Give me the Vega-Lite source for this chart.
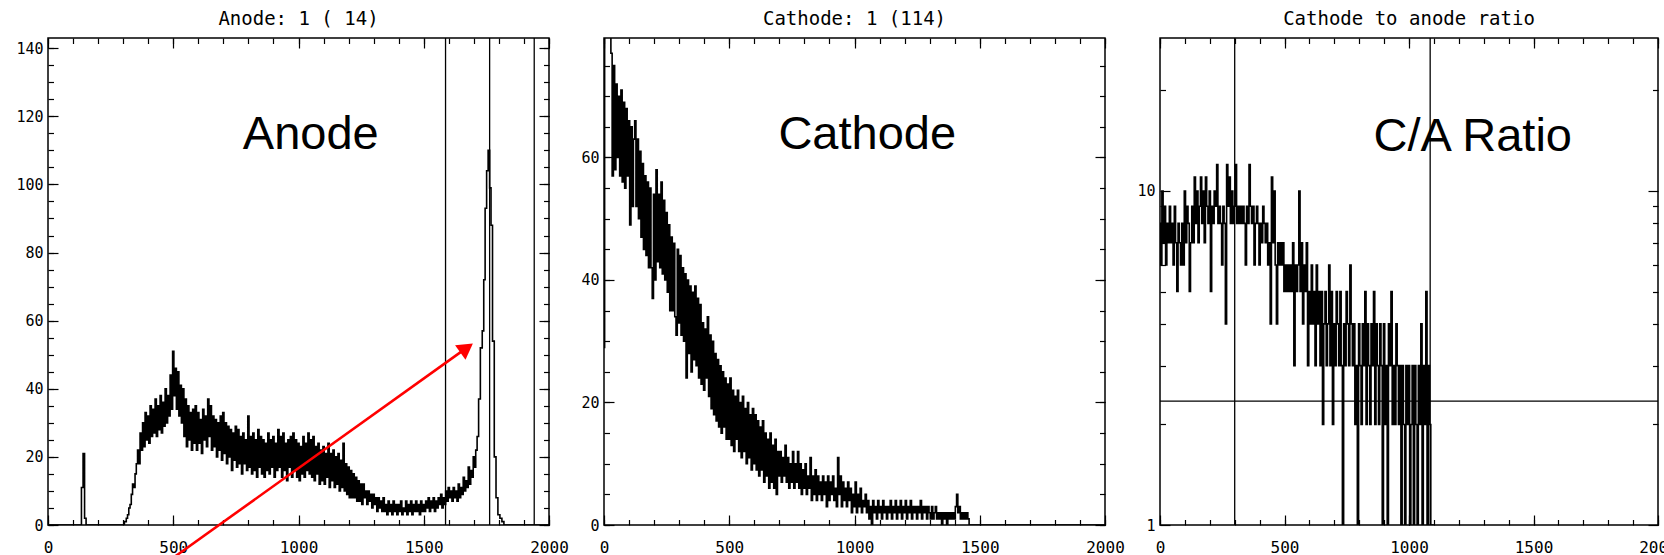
{
"$schema": "https://vega.github.io/schema/vega-lite/v6.json",
"background": "white",
"padding": {"left": 15, "top": 9, "right": 0, "bottom": 0},
"bounds": "flush",
"spacing": 55,
"config": {
  "view": {"stroke": "black", "strokeWidth": 1.5, "fill": "white"},
  "axis": {"labelFont": "DejaVu Sans Mono", "labelColor": "black", "tickColor": "black", "tickWidth": 1.2, "domain": false, "grid": false, "labelFlush": false, "labelOverlap": false, "labelBound": false},
  "title": {"font": "DejaVu Sans Mono", "fontSize": 19, "fontWeight": "normal", "color": "black", "offset": 8, "anchor": "middle"}
},
"hconcat": [
{
  "width": 501, "height": 487,
  "title": {"text": "Anode: 1 ( 14)"},
  "data": {"values": [
{"channel":0,"counts":0},{"channel":130,"counts":0},{"channel":137,"counts":11},{"channel":143,"counts":21},{"channel":149,"counts":2},{"channel":155,"counts":0},{"channel":300,"counts":0},
{"channel":310,"counts":1},{"channel":315,"counts":2},{"channel":320,"counts":3},{"channel":325,"counts":5},{"channel":330,"counts":6},{"channel":335,"counts":9},{"channel":340,"counts":12},{"channel":345,"counts":11},{"channel":350,"counts":15},{"channel":355,"counts":18},{"channel":360,"counts":22},{"channel":365,"counts":18},{"channel":370,"counts":27},{"channel":375,"counts":22},{"channel":380,"counts":30},{"channel":385,"counts":23},{"channel":390,"counts":33},{"channel":395,"counts":25},{"channel":400,"counts":32},{"channel":405,"counts":24},{"channel":410,"counts":35},{"channel":415,"counts":26},{"channel":420,"counts":34},{"channel":425,"counts":27},{"channel":430,"counts":37},{"channel":435,"counts":26},{"channel":440,"counts":35},{"channel":445,"counts":28},{"channel":450,"counts":38},{"channel":455,"counts":27},{"channel":460,"counts":36},{"channel":465,"counts":29},{"channel":470,"counts":40},{"channel":475,"counts":30},{"channel":480,"counts":38},{"channel":485,"counts":32},{"channel":490,"counts":44},{"channel":495,"counts":34},{"channel":500,"counts":51},{"channel":505,"counts":38},{"channel":510,"counts":46},{"channel":515,"counts":34},{"channel":520,"counts":45},{"channel":525,"counts":32},{"channel":530,"counts":41},{"channel":535,"counts":30},{"channel":540,"counts":40},{"channel":545,"counts":26},{"channel":550,"counts":37},{"channel":555,"counts":23},{"channel":560,"counts":35},{"channel":565,"counts":25},{"channel":570,"counts":33},{"channel":575,"counts":22},{"channel":580,"counts":34},{"channel":585,"counts":24},{"channel":590,"counts":35},{"channel":595,"counts":22},{"channel":600,"counts":33},{"channel":605,"counts":24},{"channel":610,"counts":31},{"channel":615,"counts":21},{"channel":620,"counts":34},{"channel":625,"counts":25},{"channel":630,"counts":32},{"channel":635,"counts":23},{"channel":640,"counts":37},{"channel":645,"counts":26},{"channel":650,"counts":35},{"channel":655,"counts":22},{"channel":660,"counts":32},{"channel":665,"counts":23},{"channel":670,"counts":31},{"channel":675,"counts":20},{"channel":680,"counts":30},{"channel":685,"counts":22},{"channel":690,"counts":32},{"channel":695,"counts":19},{"channel":700,"counts":33},{"channel":705,"counts":21},{"channel":710,"counts":30},{"channel":715,"counts":18},{"channel":720,"counts":29},{"channel":725,"counts":20},{"channel":730,"counts":28},{"channel":735,"counts":16},{"channel":740,"counts":27},{"channel":745,"counts":19},{"channel":750,"counts":29},{"channel":755,"counts":17},{"channel":760,"counts":28},{"channel":765,"counts":18},{"channel":770,"counts":26},{"channel":775,"counts":15},{"channel":780,"counts":27},{"channel":785,"counts":18},{"channel":790,"counts":25},{"channel":795,"counts":16},{"channel":800,"counts":32},{"channel":805,"counts":17},{"channel":810,"counts":26},{"channel":815,"counts":15},{"channel":820,"counts":27},{"channel":825,"counts":16},{"channel":830,"counts":25},{"channel":835,"counts":14},{"channel":840,"counts":28},{"channel":845,"counts":17},{"channel":850,"counts":26},{"channel":855,"counts":15},{"channel":860,"counts":25},{"channel":865,"counts":14},{"channel":870,"counts":24},{"channel":875,"counts":16},{"channel":880,"counts":27},{"channel":885,"counts":15},{"channel":890,"counts":25},{"channel":895,"counts":17},{"channel":900,"counts":26},{"channel":905,"counts":14},{"channel":910,"counts":24},{"channel":915,"counts":16},{"channel":920,"counts":28},{"channel":925,"counts":17},{"channel":930,"counts":26},{"channel":935,"counts":14},{"channel":940,"counts":27},{"channel":945,"counts":16},{"channel":950,"counts":24},{"channel":955,"counts":13},{"channel":960,"counts":25},{"channel":965,"counts":17},{"channel":970,"counts":26},{"channel":975,"counts":14},{"channel":980,"counts":27},{"channel":985,"counts":16},{"channel":990,"counts":25},{"channel":995,"counts":14},{"channel":1000,"counts":24},{"channel":1005,"counts":13},{"channel":1010,"counts":23},{"channel":1015,"counts":15},{"channel":1020,"counts":26},{"channel":1025,"counts":14},{"channel":1030,"counts":24},{"channel":1035,"counts":16},{"channel":1040,"counts":27},{"channel":1045,"counts":15},{"channel":1050,"counts":25},{"channel":1055,"counts":14},{"channel":1060,"counts":26},{"channel":1065,"counts":13},{"channel":1070,"counts":23},{"channel":1075,"counts":15},{"channel":1080,"counts":24},{"channel":1085,"counts":12},{"channel":1090,"counts":22},{"channel":1095,"counts":13},{"channel":1100,"counts":23},{"channel":1105,"counts":12},{"channel":1110,"counts":21},{"channel":1115,"counts":14},{"channel":1120,"counts":24},{"channel":1125,"counts":11},{"channel":1130,"counts":21},{"channel":1135,"counts":13},{"channel":1140,"counts":22},{"channel":1145,"counts":11},{"channel":1150,"counts":20},{"channel":1155,"counts":12},{"channel":1160,"counts":21},{"channel":1165,"counts":10},{"channel":1170,"counts":19},{"channel":1175,"counts":11},{"channel":1180,"counts":24},{"channel":1185,"counts":10},{"channel":1190,"counts":18},{"channel":1195,"counts":9},{"channel":1200,"counts":17},{"channel":1205,"counts":8},{"channel":1210,"counts":16},{"channel":1215,"counts":8},{"channel":1220,"counts":15},{"channel":1225,"counts":8},{"channel":1230,"counts":14},{"channel":1235,"counts":7},{"channel":1240,"counts":13},{"channel":1245,"counts":7},{"channel":1250,"counts":12},{"channel":1255,"counts":6},{"channel":1260,"counts":12},{"channel":1265,"counts":8},{"channel":1270,"counts":10},{"channel":1275,"counts":6},{"channel":1280,"counts":10},{"channel":1285,"counts":7},{"channel":1290,"counts":9},{"channel":1295,"counts":5},{"channel":1300,"counts":9},{"channel":1305,"counts":6},{"channel":1310,"counts":8},{"channel":1315,"counts":4},{"channel":1320,"counts":8},{"channel":1325,"counts":5},{"channel":1330,"counts":7},{"channel":1335,"counts":4},{"channel":1340,"counts":8},{"channel":1345,"counts":4},{"channel":1350,"counts":6},{"channel":1355,"counts":3},{"channel":1360,"counts":7},{"channel":1365,"counts":4},{"channel":1370,"counts":6},{"channel":1375,"counts":3},{"channel":1380,"counts":7},{"channel":1385,"counts":4},{"channel":1390,"counts":6},{"channel":1395,"counts":3},{"channel":1400,"counts":6},{"channel":1405,"counts":4},{"channel":1410,"counts":7},{"channel":1415,"counts":3},{"channel":1420,"counts":5},{"channel":1425,"counts":4},{"channel":1430,"counts":7},{"channel":1435,"counts":3},{"channel":1440,"counts":6},{"channel":1445,"counts":4},{"channel":1450,"counts":7},{"channel":1455,"counts":3},{"channel":1460,"counts":6},{"channel":1465,"counts":4},{"channel":1470,"counts":7},{"channel":1475,"counts":4},{"channel":1480,"counts":6},{"channel":1485,"counts":3},{"channel":1490,"counts":7},{"channel":1495,"counts":4},{"channel":1500,"counts":6},{"channel":1505,"counts":4},{"channel":1510,"counts":7},{"channel":1515,"counts":5},{"channel":1520,"counts":8},{"channel":1525,"counts":4},{"channel":1530,"counts":7},{"channel":1535,"counts":5},{"channel":1540,"counts":8},{"channel":1545,"counts":4},{"channel":1550,"counts":7},{"channel":1555,"counts":5},{"channel":1560,"counts":8},{"channel":1565,"counts":6},{"channel":1570,"counts":9},{"channel":1575,"counts":5},{"channel":1580,"counts":8},{"channel":1585,"counts":6},{"channel":1590,"counts":10},{"channel":1595,"counts":7},{"channel":1600,"counts":11},{"channel":1605,"counts":8},{"channel":1610,"counts":10},{"channel":1615,"counts":7},{"channel":1620,"counts":11},{"channel":1625,"counts":8},{"channel":1630,"counts":10},{"channel":1635,"counts":7},{"channel":1640,"counts":12},{"channel":1645,"counts":8},{"channel":1650,"counts":11},{"channel":1655,"counts":9},{"channel":1660,"counts":14},{"channel":1665,"counts":10},{"channel":1670,"counts":13},{"channel":1675,"counts":11},{"channel":1680,"counts":17},{"channel":1685,"counts":12},{"channel":1690,"counts":16},{"channel":1695,"counts":14},{"channel":1700,"counts":20},{"channel":1705,"counts":17},{"channel":1710,"counts":22},{"channel":1716,"counts":26},{"channel":1722,"counts":37},{"channel":1730,"counts":52},{"channel":1737,"counts":57},{"channel":1742,"counts":72},{"channel":1748,"counts":93},{"channel":1754,"counts":104},{"channel":1760,"counts":110},{"channel":1766,"counts":99},{"channel":1771,"counts":88},{"channel":1778,"counts":54},{"channel":1785,"counts":20},{"channel":1792,"counts":8},{"channel":1800,"counts":3},{"channel":1808,"counts":2},{"channel":1816,"counts":1},{"channel":1824,"counts":0},{"channel":2000,"counts":0}
  ]},
  "resolve": {"axis": {"x": "independent", "y": "independent"}},
  "layer": [
    {"mark": {"type": "line", "interpolate": "step", "color": "black", "strokeWidth": 1.6, "clip": true},
     "encoding": {
       "x": {"field": "channel", "type": "quantitative", "scale": {"domain": [0, 2000], "nice": false, "zero": false},
             "axis": {"orient": "bottom", "values": [0, 500, 1000, 1500, 2000], "tickSize": -10, "labelPadding": 24, "labelFontSize": 16, "format": "d", "title": null}},
       "y": {"field": "counts", "type": "quantitative", "scale": {"domain": [0, 143], "nice": false, "zero": false},
             "axis": {"orient": "left", "values": [0, 20, 40, 60, 80, 100, 120, 140], "tickSize": -10, "labelPadding": 15, "labelFontSize": 15, "format": "d", "title": null}}
     }},
    {"transform": [{"filter": "datum.channel == 0"}], "mark": {"type": "point", "opacity": 0},
     "encoding": {
       "x": {"field": "channel", "type": "quantitative", "scale": {"domain": [0, 2000], "nice": false, "zero": false},
             "axis": {"orient": "bottom", "values": [0,100,200,300,400,500,600,700,800,900,1000,1100,1200,1300,1400,1500,1600,1700,1800,1900,2000], "tickSize": -5.5, "labels": false, "title": null}},
       "y": {"field": "counts", "type": "quantitative", "scale": {"domain": [0, 143], "nice": false, "zero": false},
             "axis": {"orient": "left", "values": [0,5,10,15,20,25,30,35,40,45,50,55,60,65,70,75,80,85,90,95,100,105,110,115,120,125,130,135,140], "tickSize": -5.5, "labels": false, "title": null}}
     }},
    {"transform": [{"filter": "datum.channel == 0"}], "mark": {"type": "point", "opacity": 0},
     "encoding": {
       "x": {"field": "channel", "type": "quantitative", "scale": {"domain": [0, 2000], "nice": false, "zero": false},
             "axis": {"orient": "top", "values": [0, 500, 1000, 1500, 2000], "tickSize": -10, "labels": false, "title": null}},
       "y": {"field": "counts", "type": "quantitative", "scale": {"domain": [0, 143], "nice": false, "zero": false},
             "axis": {"orient": "right", "values": [0, 20, 40, 60, 80, 100, 120, 140], "tickSize": -10, "labels": false, "title": null}}
     }},
    {"transform": [{"filter": "datum.channel == 0"}], "mark": {"type": "point", "opacity": 0},
     "encoding": {
       "x": {"field": "channel", "type": "quantitative", "scale": {"domain": [0, 2000], "nice": false, "zero": false},
             "axis": {"orient": "top", "values": [0,100,200,300,400,500,600,700,800,900,1000,1100,1200,1300,1400,1500,1600,1700,1800,1900,2000], "tickSize": -5.5, "labels": false, "title": null}},
       "y": {"field": "counts", "type": "quantitative", "scale": {"domain": [0, 143], "nice": false, "zero": false},
             "axis": {"orient": "right", "values": [0,5,10,15,20,25,30,35,40,45,50,55,60,65,70,75,80,85,90,95,100,105,110,115,120,125,130,135,140], "tickSize": -5.5, "labels": false, "title": null}}
     }},
    {"data": {"values": [{"channel": 1587}, {"channel": 1763}, {"channel": 1941}]},
     "mark": {"type": "rule", "color": "black", "strokeWidth": 1.3},
     "encoding": {"x": {"field": "channel", "type": "quantitative", "scale": {"domain": [0, 2000], "nice": false, "zero": false}, "axis": null}}},
    {"data": {"values": [{}]},
     "mark": {"type": "text", "text": "Anode", "font": "Liberation Sans", "fontSize": 47, "align": "center", "baseline": "alphabetic", "color": "black"},
     "encoding": {
       "x": {"datum": 1049, "type": "quantitative", "scale": {"domain": [0, 2000], "nice": false, "zero": false}, "axis": null},
       "y": {"datum": 110.5, "type": "quantitative", "scale": {"domain": [0, 143], "nice": false, "zero": false}, "axis": null}
     }},
    {"data": {"values": [{}]},
     "mark": {"type": "rule", "color": "#ff0000", "strokeWidth": 2.6},
     "encoding": {
       "x": {"datum": 415, "type": "quantitative", "scale": {"domain": [0, 2000], "nice": false, "zero": false}, "axis": null},
       "x2": {"datum": 1671},
       "y": {"datum": -14.1, "type": "quantitative", "scale": {"domain": [0, 143], "nice": false, "zero": false}, "axis": null},
       "y2": {"datum": 52}
     }},
    {"data": {"values": [{}]},
     "mark": {"type": "point", "shape": "triangle-up", "filled": true, "color": "#ff0000", "opacity": 1, "size": 320, "angle": 54.4},
     "encoding": {
       "x": {"datum": 1671, "type": "quantitative", "scale": {"domain": [0, 2000], "nice": false, "zero": false}, "axis": null},
       "y": {"datum": 52, "type": "quantitative", "scale": {"domain": [0, 143], "nice": false, "zero": false}, "axis": null}
     }}
  ]
},
{
  "width": 501, "height": 487,
  "title": {"text": "Cathode: 1 (114)"},
  "data": {"values": [
{"channel":0,"counts":29},{"channel":5,"counts":95},{"channel":10,"counts":88},{"channel":15,"counts":92},{"channel":20,"counts":84},{"channel":25,"counts":86},{"channel":30,"counts":77},{"channel":35,"counts":57},{"channel":40,"counts":75},{"channel":45,"counts":58},{"channel":50,"counts":72},{"channel":55,"counts":60},{"channel":60,"counts":70},{"channel":65,"counts":57},{"channel":70,"counts":71},{"channel":75,"counts":56},{"channel":80,"counts":69},{"channel":85,"counts":55},{"channel":90,"counts":68},{"channel":95,"counts":57},{"channel":100,"counts":66},{"channel":105,"counts":49},{"channel":110,"counts":65},{"channel":115,"counts":52},{"channel":120,"counts":63},{"channel":125,"counts":66},{"channel":130,"counts":52},{"channel":135,"counts":63},{"channel":140,"counts":50},{"channel":145,"counts":61},{"channel":150,"counts":47},{"channel":155,"counts":59},{"channel":160,"counts":45},{"channel":165,"counts":57},{"channel":170,"counts":44},{"channel":175,"counts":56},{"channel":180,"counts":42},{"channel":185,"counts":55},{"channel":190,"counts":42},{"channel":195,"counts":37},{"channel":200,"counts":54},{"channel":205,"counts":40},{"channel":210,"counts":58},{"channel":215,"counts":43},{"channel":220,"counts":54},{"channel":225,"counts":42},{"channel":230,"counts":56},{"channel":235,"counts":41},{"channel":240,"counts":53},{"channel":245,"counts":40},{"channel":250,"counts":51},{"channel":255,"counts":38},{"channel":260,"counts":49},{"channel":265,"counts":35},{"channel":270,"counts":47},{"channel":275,"counts":35},{"channel":280,"counts":46},{"channel":285,"counts":34},{"channel":290,"counts":31},{"channel":295,"counts":45},{"channel":300,"counts":33},{"channel":305,"counts":44},{"channel":310,"counts":31},{"channel":315,"counts":42},{"channel":320,"counts":30},{"channel":325,"counts":41},{"channel":330,"counts":24},{"channel":335,"counts":40},{"channel":340,"counts":28},{"channel":345,"counts":39},{"channel":350,"counts":25},{"channel":355,"counts":38},{"channel":360,"counts":27},{"channel":365,"counts":39},{"channel":370,"counts":26},{"channel":375,"counts":37},{"channel":380,"counts":24},{"channel":385,"counts":36},{"channel":390,"counts":23},{"channel":395,"counts":33},{"channel":400,"counts":22},{"channel":405,"counts":32},{"channel":410,"counts":24},{"channel":415,"counts":34},{"channel":420,"counts":21},{"channel":425,"counts":31},{"channel":430,"counts":19},{"channel":435,"counts":30},{"channel":440,"counts":18},{"channel":445,"counts":28},{"channel":450,"counts":17},{"channel":455,"counts":27},{"channel":460,"counts":16},{"channel":465,"counts":26},{"channel":470,"counts":15},{"channel":475,"counts":25},{"channel":480,"counts":16},{"channel":485,"counts":24},{"channel":490,"counts":14},{"channel":495,"counts":23},{"channel":500,"counts":14},{"channel":505,"counts":24},{"channel":510,"counts":13},{"channel":515,"counts":22},{"channel":520,"counts":12},{"channel":525,"counts":21},{"channel":530,"counts":14},{"channel":535,"counts":22},{"channel":540,"counts":12},{"channel":545,"counts":20},{"channel":550,"counts":11},{"channel":555,"counts":21},{"channel":560,"counts":12},{"channel":565,"counts":19},{"channel":570,"counts":10},{"channel":575,"counts":20},{"channel":580,"counts":11},{"channel":585,"counts":18},{"channel":590,"counts":9},{"channel":595,"counts":19},{"channel":600,"counts":10},{"channel":605,"counts":18},{"channel":610,"counts":9},{"channel":615,"counts":17},{"channel":620,"counts":8},{"channel":625,"counts":16},{"channel":630,"counts":9},{"channel":635,"counts":17},{"channel":640,"counts":7},{"channel":645,"counts":15},{"channel":650,"counts":8},{"channel":655,"counts":14},{"channel":660,"counts":6},{"channel":665,"counts":15},{"channel":670,"counts":7},{"channel":675,"counts":13},{"channel":680,"counts":6},{"channel":685,"counts":14},{"channel":690,"counts":5},{"channel":695,"counts":12},{"channel":700,"counts":8},{"channel":705,"counts":12},{"channel":710,"counts":7},{"channel":715,"counts":11},{"channel":720,"counts":8},{"channel":725,"counts":13},{"channel":730,"counts":7},{"channel":735,"counts":11},{"channel":740,"counts":6},{"channel":745,"counts":10},{"channel":750,"counts":7},{"channel":755,"counts":12},{"channel":760,"counts":6},{"channel":765,"counts":10},{"channel":770,"counts":7},{"channel":775,"counts":12},{"channel":780,"counts":6},{"channel":785,"counts":10},{"channel":790,"counts":5},{"channel":795,"counts":9},{"channel":800,"counts":6},{"channel":805,"counts":10},{"channel":810,"counts":5},{"channel":815,"counts":8},{"channel":820,"counts":6},{"channel":825,"counts":11},{"channel":830,"counts":4},{"channel":835,"counts":8},{"channel":840,"counts":5},{"channel":845,"counts":9},{"channel":850,"counts":4},{"channel":855,"counts":8},{"channel":860,"counts":5},{"channel":865,"counts":7},{"channel":870,"counts":4},{"channel":875,"counts":8},{"channel":880,"counts":5},{"channel":885,"counts":7},{"channel":890,"counts":3},{"channel":895,"counts":8},{"channel":900,"counts":4},{"channel":905,"counts":7},{"channel":910,"counts":5},{"channel":915,"counts":8},{"channel":920,"counts":4},{"channel":925,"counts":6},{"channel":930,"counts":3},{"channel":935,"counts":11},{"channel":940,"counts":5},{"channel":945,"counts":8},{"channel":950,"counts":3},{"channel":955,"counts":7},{"channel":960,"counts":4},{"channel":965,"counts":6},{"channel":970,"counts":3},{"channel":975,"counts":7},{"channel":980,"counts":4},{"channel":985,"counts":6},{"channel":990,"counts":2},{"channel":995,"counts":5},{"channel":1000,"counts":3},{"channel":1005,"counts":7},{"channel":1010,"counts":2},{"channel":1015,"counts":5},{"channel":1020,"counts":3},{"channel":1025,"counts":6},{"channel":1030,"counts":2},{"channel":1035,"counts":4},{"channel":1040,"counts":3},{"channel":1045,"counts":5},{"channel":1050,"counts":2},{"channel":1055,"counts":4},{"channel":1060,"counts":1},{"channel":1065,"counts":3},{"channel":1070,"counts":0},{"channel":1075,"counts":4},{"channel":1080,"counts":2},{"channel":1085,"counts":3},{"channel":1090,"counts":1},{"channel":1095,"counts":4},{"channel":1100,"counts":2},{"channel":1105,"counts":3},{"channel":1110,"counts":1},{"channel":1115,"counts":4},{"channel":1120,"counts":2},{"channel":1125,"counts":3},{"channel":1130,"counts":1},{"channel":1135,"counts":3},{"channel":1140,"counts":2},{"channel":1145,"counts":4},{"channel":1150,"counts":1},{"channel":1155,"counts":3},{"channel":1160,"counts":2},{"channel":1165,"counts":4},{"channel":1170,"counts":1},{"channel":1175,"counts":3},{"channel":1180,"counts":2},{"channel":1185,"counts":4},{"channel":1190,"counts":1},{"channel":1195,"counts":3},{"channel":1200,"counts":2},{"channel":1205,"counts":4},{"channel":1210,"counts":1},{"channel":1215,"counts":3},{"channel":1220,"counts":2},{"channel":1225,"counts":4},{"channel":1230,"counts":1},{"channel":1235,"counts":3},{"channel":1240,"counts":2},{"channel":1245,"counts":3},{"channel":1250,"counts":1},{"channel":1255,"counts":3},{"channel":1260,"counts":2},{"channel":1265,"counts":4},{"channel":1270,"counts":1},{"channel":1275,"counts":3},{"channel":1280,"counts":2},{"channel":1285,"counts":3},{"channel":1290,"counts":1},{"channel":1295,"counts":3},{"channel":1300,"counts":2},{"channel":1305,"counts":1},{"channel":1310,"counts":3},{"channel":1315,"counts":1},{"channel":1320,"counts":2},{"channel":1325,"counts":3},{"channel":1330,"counts":1},{"channel":1335,"counts":2},{"channel":1340,"counts":1},{"channel":1345,"counts":2},{"channel":1350,"counts":0},{"channel":1355,"counts":2},{"channel":1360,"counts":1},{"channel":1365,"counts":2},{"channel":1370,"counts":0},{"channel":1375,"counts":2},{"channel":1380,"counts":1},{"channel":1385,"counts":2},{"channel":1390,"counts":1},{"channel":1395,"counts":2},{"channel":1400,"counts":1},{"channel":1405,"counts":3},{"channel":1410,"counts":5},{"channel":1415,"counts":2},{"channel":1420,"counts":3},{"channel":1425,"counts":1},{"channel":1430,"counts":2},{"channel":1435,"counts":1},{"channel":1440,"counts":2},{"channel":1445,"counts":1},{"channel":1450,"counts":2},{"channel":1455,"counts":1},{"channel":1460,"counts":0},{"channel":2000,"counts":0}
  ]},
  "resolve": {"axis": {"x": "independent", "y": "independent"}},
  "layer": [
    {"mark": {"type": "line", "interpolate": "step", "color": "black", "strokeWidth": 1.6, "clip": true},
     "encoding": {
       "x": {"field": "channel", "type": "quantitative", "scale": {"domain": [0, 2000], "nice": false, "zero": false},
             "axis": {"orient": "bottom", "values": [0, 500, 1000, 1500, 2000], "tickSize": -10, "labelPadding": 24, "labelFontSize": 16, "format": "d", "title": null}},
       "y": {"field": "counts", "type": "quantitative", "scale": {"domain": [0, 79.5], "nice": false, "zero": false},
             "axis": {"orient": "left", "values": [0, 20, 40, 60], "tickSize": -10, "labelPadding": 15, "labelFontSize": 15, "format": "d", "title": null}}
     }},
    {"transform": [{"filter": "datum.channel == 0"}], "mark": {"type": "point", "opacity": 0},
     "encoding": {
       "x": {"field": "channel", "type": "quantitative", "scale": {"domain": [0, 2000], "nice": false, "zero": false},
             "axis": {"orient": "bottom", "values": [0,100,200,300,400,500,600,700,800,900,1000,1100,1200,1300,1400,1500,1600,1700,1800,1900,2000], "tickSize": -5.5, "labels": false, "title": null}},
       "y": {"field": "counts", "type": "quantitative", "scale": {"domain": [0, 79.5], "nice": false, "zero": false},
             "axis": {"orient": "left", "values": [0,5,10,15,20,25,30,35,40,45,50,55,60,65,70,75], "tickSize": -5.5, "labels": false, "title": null}}
     }},
    {"transform": [{"filter": "datum.channel == 0"}], "mark": {"type": "point", "opacity": 0},
     "encoding": {
       "x": {"field": "channel", "type": "quantitative", "scale": {"domain": [0, 2000], "nice": false, "zero": false},
             "axis": {"orient": "top", "values": [0, 500, 1000, 1500, 2000], "tickSize": -10, "labels": false, "title": null}},
       "y": {"field": "counts", "type": "quantitative", "scale": {"domain": [0, 79.5], "nice": false, "zero": false},
             "axis": {"orient": "right", "values": [0, 20, 40, 60], "tickSize": -10, "labels": false, "title": null}}
     }},
    {"transform": [{"filter": "datum.channel == 0"}], "mark": {"type": "point", "opacity": 0},
     "encoding": {
       "x": {"field": "channel", "type": "quantitative", "scale": {"domain": [0, 2000], "nice": false, "zero": false},
             "axis": {"orient": "top", "values": [0,100,200,300,400,500,600,700,800,900,1000,1100,1200,1300,1400,1500,1600,1700,1800,1900,2000], "tickSize": -5.5, "labels": false, "title": null}},
       "y": {"field": "counts", "type": "quantitative", "scale": {"domain": [0, 79.5], "nice": false, "zero": false},
             "axis": {"orient": "right", "values": [0,5,10,15,20,25,30,35,40,45,50,55,60,65,70,75], "tickSize": -5.5, "labels": false, "title": null}}
     }},
    {"data": {"values": [{}]},
     "mark": {"type": "text", "text": "Cathode", "font": "Liberation Sans", "fontSize": 47, "align": "center", "baseline": "alphabetic", "color": "black"},
     "encoding": {
       "x": {"datum": 1051, "type": "quantitative", "scale": {"domain": [0, 2000], "nice": false, "zero": false}, "axis": null},
       "y": {"datum": 61.4, "type": "quantitative", "scale": {"domain": [0, 79.5], "nice": false, "zero": false}, "axis": null}
     }}
  ]
},
{
  "width": 498, "height": 487,
  "title": {"text": "Cathode to anode ratio"},
  "data": {"values": [
{"channel":0,"ratio":8},{"channel":5,"ratio":6},{"channel":10,"ratio":10},{"channel":15,"ratio":7},{"channel":20,"ratio":9},{"channel":25,"ratio":6},{"channel":30,"ratio":8},{"channel":35,"ratio":7},{"channel":40,"ratio":9},{"channel":45,"ratio":7},{"channel":50,"ratio":8},{"channel":55,"ratio":6},{"channel":60,"ratio":9},{"channel":65,"ratio":7},{"channel":70,"ratio":5},{"channel":75,"ratio":8},{"channel":80,"ratio":7},{"channel":85,"ratio":6},{"channel":90,"ratio":8},{"channel":95,"ratio":6},{"channel":100,"ratio":10},{"channel":105,"ratio":7},{"channel":110,"ratio":9},{"channel":115,"ratio":8},{"channel":120,"ratio":5},{"channel":125,"ratio":7},{"channel":130,"ratio":9},{"channel":135,"ratio":7},{"channel":140,"ratio":11},{"channel":145,"ratio":8},{"channel":150,"ratio":10},{"channel":155,"ratio":7},{"channel":160,"ratio":9},{"channel":165,"ratio":11},{"channel":170,"ratio":8},{"channel":175,"ratio":10},{"channel":180,"ratio":7},{"channel":185,"ratio":11},{"channel":190,"ratio":9},{"channel":195,"ratio":8},{"channel":200,"ratio":10},{"channel":205,"ratio":5},{"channel":210,"ratio":9},{"channel":215,"ratio":8},{"channel":220,"ratio":10},{"channel":225,"ratio":9},{"channel":230,"ratio":12},{"channel":235,"ratio":8},{"channel":240,"ratio":9},{"channel":245,"ratio":8},{"channel":250,"ratio":6},{"channel":255,"ratio":9},{"channel":260,"ratio":8},{"channel":265,"ratio":4},{"channel":270,"ratio":12},{"channel":275,"ratio":9},{"channel":280,"ratio":11},{"channel":285,"ratio":8},{"channel":290,"ratio":10},{"channel":295,"ratio":8},{"channel":300,"ratio":9},{"channel":305,"ratio":12},{"channel":310,"ratio":8},{"channel":315,"ratio":9},{"channel":320,"ratio":8},{"channel":325,"ratio":9},{"channel":330,"ratio":8},{"channel":335,"ratio":9},{"channel":340,"ratio":8},{"channel":345,"ratio":6},{"channel":350,"ratio":9},{"channel":355,"ratio":8},{"channel":360,"ratio":12},{"channel":365,"ratio":9},{"channel":370,"ratio":8},{"channel":375,"ratio":9},{"channel":380,"ratio":6},{"channel":385,"ratio":8},{"channel":390,"ratio":9},{"channel":395,"ratio":8},{"channel":400,"ratio":6},{"channel":405,"ratio":8},{"channel":410,"ratio":7},{"channel":415,"ratio":9},{"channel":420,"ratio":8},{"channel":425,"ratio":7},{"channel":430,"ratio":8},{"channel":435,"ratio":6},{"channel":440,"ratio":7},{"channel":445,"ratio":4},{"channel":450,"ratio":11},{"channel":455,"ratio":7},{"channel":460,"ratio":10},{"channel":465,"ratio":6},{"channel":470,"ratio":4},{"channel":475,"ratio":7},{"channel":480,"ratio":6},{"channel":485,"ratio":7},{"channel":490,"ratio":6},{"channel":495,"ratio":7},{"channel":500,"ratio":5},{"channel":505,"ratio":6},{"channel":510,"ratio":5},{"channel":515,"ratio":6},{"channel":520,"ratio":5},{"channel":525,"ratio":6},{"channel":530,"ratio":5},{"channel":535,"ratio":7},{"channel":540,"ratio":3},{"channel":545,"ratio":6},{"channel":550,"ratio":5},{"channel":555,"ratio":6},{"channel":560,"ratio":10},{"channel":565,"ratio":5},{"channel":570,"ratio":7},{"channel":575,"ratio":4},{"channel":580,"ratio":6},{"channel":585,"ratio":5},{"channel":590,"ratio":7},{"channel":595,"ratio":3},{"channel":600,"ratio":5},{"channel":605,"ratio":4},{"channel":610,"ratio":6},{"channel":615,"ratio":4},{"channel":620,"ratio":5},{"channel":625,"ratio":3},{"channel":630,"ratio":6},{"channel":635,"ratio":4},{"channel":640,"ratio":5},{"channel":645,"ratio":3},{"channel":650,"ratio":5},{"channel":655,"ratio":2},{"channel":660,"ratio":4},{"channel":665,"ratio":5},{"channel":670,"ratio":3},{"channel":675,"ratio":4},{"channel":680,"ratio":6},{"channel":685,"ratio":3},{"channel":690,"ratio":5},{"channel":695,"ratio":2},{"channel":700,"ratio":4},{"channel":705,"ratio":3},{"channel":710,"ratio":5},{"channel":715,"ratio":4},{"channel":720,"ratio":3},{"channel":725,"ratio":5},{"channel":730,"ratio":3},{"channel":735,"ratio":1},{"channel":740,"ratio":4},{"channel":745,"ratio":3},{"channel":750,"ratio":5},{"channel":755,"ratio":4},{"channel":760,"ratio":3},{"channel":765,"ratio":6},{"channel":770,"ratio":4},{"channel":775,"ratio":3},{"channel":780,"ratio":4},{"channel":785,"ratio":2},{"channel":790,"ratio":3},{"channel":795,"ratio":1},{"channel":800,"ratio":4},{"channel":805,"ratio":3},{"channel":810,"ratio":2},{"channel":815,"ratio":4},{"channel":820,"ratio":3},{"channel":825,"ratio":5},{"channel":830,"ratio":2},{"channel":835,"ratio":4},{"channel":840,"ratio":3},{"channel":845,"ratio":2},{"channel":850,"ratio":4},{"channel":855,"ratio":3},{"channel":860,"ratio":5},{"channel":865,"ratio":2},{"channel":870,"ratio":4},{"channel":875,"ratio":3},{"channel":880,"ratio":2},{"channel":885,"ratio":4},{"channel":890,"ratio":3},{"channel":895,"ratio":1},{"channel":900,"ratio":4},{"channel":905,"ratio":2},{"channel":910,"ratio":3},{"channel":915,"ratio":1},{"channel":920,"ratio":4},{"channel":925,"ratio":3},{"channel":930,"ratio":5},{"channel":935,"ratio":2},{"channel":940,"ratio":3},{"channel":945,"ratio":2},{"channel":950,"ratio":4},{"channel":955,"ratio":3},{"channel":960,"ratio":2},{"channel":965,"ratio":3},{"channel":970,"ratio":1},{"channel":975,"ratio":3},{"channel":980,"ratio":2},{"channel":985,"ratio":1},{"channel":990,"ratio":3},{"channel":995,"ratio":2},{"channel":1000,"ratio":3},{"channel":1005,"ratio":1},{"channel":1010,"ratio":2},{"channel":1015,"ratio":3},{"channel":1020,"ratio":1},{"channel":1025,"ratio":3},{"channel":1030,"ratio":2},{"channel":1035,"ratio":1},{"channel":1040,"ratio":3},{"channel":1045,"ratio":2},{"channel":1050,"ratio":4},{"channel":1055,"ratio":1},{"channel":1060,"ratio":3},{"channel":1065,"ratio":2},{"channel":1070,"ratio":5},{"channel":1075,"ratio":1},{"channel":1080,"ratio":3},{"channel":1085,"ratio":2},{"channel":1090,"ratio":1},{"channel":1100,"ratio":1}
  ]},
  "resolve": {"axis": {"x": "independent", "y": "independent"}},
  "layer": [
    {"mark": {"type": "line", "interpolate": "step", "color": "black", "strokeWidth": 1.6, "clip": true},
     "encoding": {
       "x": {"field": "channel", "type": "quantitative", "scale": {"domain": [0, 2000], "nice": false, "zero": false},
             "axis": {"orient": "bottom", "values": [0, 500, 1000, 1500, 2000], "tickSize": -10, "labelPadding": 24, "labelFontSize": 16, "format": "d", "title": null}},
       "y": {"field": "ratio", "type": "quantitative", "scale": {"type": "log", "domain": [1, 28.7], "nice": false},
             "axis": {"orient": "left", "values": [1, 10], "tickSize": -10, "labelPadding": 15, "labelFontSize": 15, "format": "d", "title": null}}
     }},
    {"transform": [{"filter": "datum.channel == 0"}], "mark": {"type": "point", "opacity": 0},
     "encoding": {
       "x": {"field": "channel", "type": "quantitative", "scale": {"domain": [0, 2000], "nice": false, "zero": false},
             "axis": {"orient": "bottom", "values": [0,100,200,300,400,500,600,700,800,900,1000,1100,1200,1300,1400,1500,1600,1700,1800,1900,2000], "tickSize": -5.5, "labels": false, "title": null}},
       "y": {"field": "ratio", "type": "quantitative", "scale": {"type": "log", "domain": [1, 28.7], "nice": false},
             "axis": {"orient": "left", "values": [2,3,4,5,6,7,8,9,20], "tickSize": -5.5, "labels": false, "title": null}}
     }},
    {"transform": [{"filter": "datum.channel == 0"}], "mark": {"type": "point", "opacity": 0},
     "encoding": {
       "x": {"field": "channel", "type": "quantitative", "scale": {"domain": [0, 2000], "nice": false, "zero": false},
             "axis": {"orient": "top", "values": [0, 500, 1000, 1500, 2000], "tickSize": -10, "labels": false, "title": null}},
       "y": {"field": "ratio", "type": "quantitative", "scale": {"type": "log", "domain": [1, 28.7], "nice": false},
             "axis": {"orient": "right", "values": [1, 10], "tickSize": -10, "labels": false, "title": null}}
     }},
    {"transform": [{"filter": "datum.channel == 0"}], "mark": {"type": "point", "opacity": 0},
     "encoding": {
       "x": {"field": "channel", "type": "quantitative", "scale": {"domain": [0, 2000], "nice": false, "zero": false},
             "axis": {"orient": "top", "values": [0,100,200,300,400,500,600,700,800,900,1000,1100,1200,1300,1400,1500,1600,1700,1800,1900,2000], "tickSize": -5.5, "labels": false, "title": null}},
       "y": {"field": "ratio", "type": "quantitative", "scale": {"type": "log", "domain": [1, 28.7], "nice": false},
             "axis": {"orient": "right", "values": [2,3,4,5,6,7,8,9,20], "tickSize": -5.5, "labels": false, "title": null}}
     }},
    {"data": {"values": [{"channel": 300}, {"channel": 1085}]},
     "mark": {"type": "rule", "color": "black", "strokeWidth": 1.3},
     "encoding": {"x": {"field": "channel", "type": "quantitative", "scale": {"domain": [0, 2000], "nice": false, "zero": false}, "axis": null}}},
    {"data": {"values": [{}]},
     "mark": {"type": "rule", "color": "black", "strokeWidth": 1.3},
     "encoding": {"y": {"datum": 2.35, "type": "quantitative", "scale": {"type": "log", "domain": [1, 28.7], "nice": false}, "axis": null}}},
    {"data": {"values": [{}]},
     "mark": {"type": "text", "text": "C/A Ratio", "font": "Liberation Sans", "fontSize": 47, "align": "center", "baseline": "alphabetic", "color": "black"},
     "encoding": {
       "x": {"datum": 1256, "type": "quantitative", "scale": {"domain": [0, 2000], "nice": false, "zero": false}, "axis": null},
       "y": {"datum": 13.2, "type": "quantitative", "scale": {"type": "log", "domain": [1, 28.7], "nice": false}, "axis": null}
     }}
  ]
}
]
}
